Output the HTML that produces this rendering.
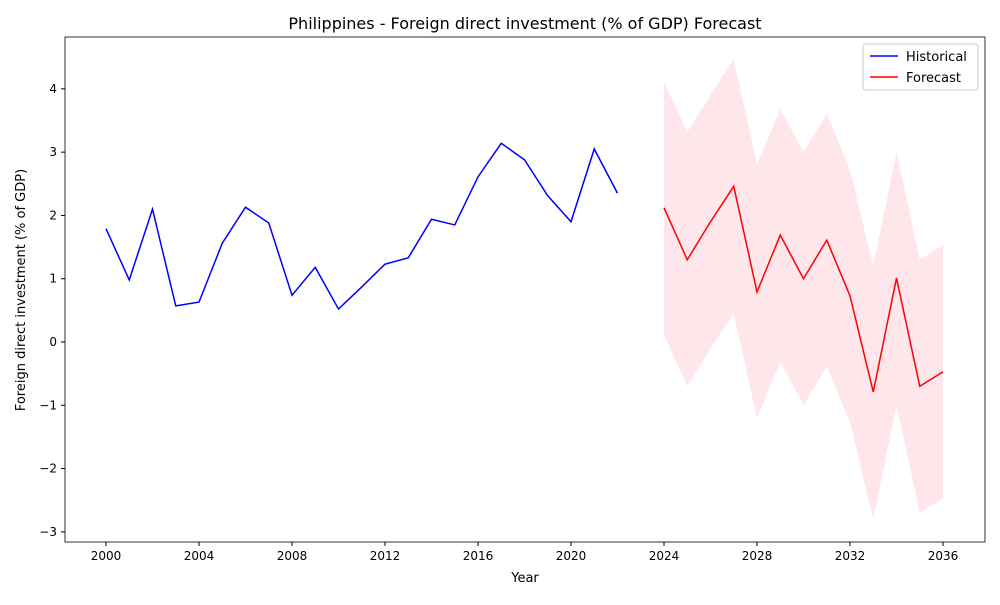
<!DOCTYPE html>
<html><head><meta charset="utf-8"><style>
body{margin:0;background:#fff;font-family:"Liberation Sans","DejaVu Sans",sans-serif}
svg text{font-family:"DejaVu Sans","Liberation Sans",sans-serif;fill:#000}
</style></head><body>
<svg id="chart" width="1000" height="600" xmlns="http://www.w3.org/2000/svg">
<rect width="1000" height="600" fill="#fff"/>
<g id="plot"></g>
</svg>
<script>
const histYears=[2000,2001,2002,2003,2004,2005,2006,2007,2008,2009,2010,2011,2012,2013,2014,2015,2016,2017,2018,2019,2020,2021,2022];
const histValues=[1.79,0.98,2.10,0.57,0.63,1.56,2.13,1.88,0.74,1.18,0.52,0.87,1.23,1.33,1.94,1.85,2.61,3.14,2.88,2.31,1.90,3.05,2.35];
const fcYears=[2024,2025,2026,2027,2028,2029,2030,2031,2032,2033,2034,2035,2036];
const fcValues=[2.12,1.30,1.90,2.46,0.79,1.69,1.00,1.61,0.73,-0.79,1.01,-0.70,-0.47];
const fcUpper=[4.11,3.32,3.90,4.47,2.80,3.68,3.00,3.60,2.72,1.20,3.00,1.30,1.53];
const fcLower=[0.12,-0.70,-0.10,0.45,-1.21,-0.31,-1.00,-0.39,-1.27,-2.80,-1.00,-2.70,-2.47];
const xTicks=[2000,2004,2008,2012,2016,2020,2024,2028,2032,2036];
const yTicks=[-3,-2,-1,0,1,2,3,4];
const NS="http://www.w3.org/2000/svg";
const L=65,R=985,T=37,B=542;
const x=v=>106+(v-2000)*(943-106)/36;
const y=v=>342-v*(443/7);
const g=document.getElementById('plot');
function el(t,a,p){const e=document.createElementNS(NS,t);for(const k in a)e.setAttribute(k,a[k]);(p||g).appendChild(e);return e;}
let d='';fcYears.forEach((yr,i)=>d+=(i?'L':'M')+x(yr)+','+y(fcUpper[i]));
for(let i=fcYears.length-1;i>=0;i--)d+='L'+x(fcYears[i])+','+y(fcLower[i]);
const band=el('path',{d:d+'Z',fill:'#ffc0cb',opacity:0.4});


const hp=el('polyline',{points:histYears.map((yr,i)=>x(yr)+','+y(histValues[i])).join(' '),fill:'none',stroke:'#0000ff','stroke-width':1.5});


const fp=el('polyline',{points:fcYears.map((yr,i)=>x(yr)+','+y(fcValues[i])).join(' '),fill:'none',stroke:'#ff0000','stroke-width':1.5});


const fr=el('rect',{x:L,y:T,width:R-L,height:B-T,fill:'none',stroke:'#000','stroke-width':0.8});


xTicks.forEach(v=>{el('line',{x1:x(v),x2:x(v),y1:B,y2:B+4,stroke:'#000'});
const t=el('text',{x:x(v),y:B+18,'text-anchor':'middle','font-size':12});t.textContent=v;

});
yTicks.forEach(v=>{el('line',{x1:L-4,x2:L,y1:y(v),y2:y(v),stroke:'#000'});
const t=el('text',{x:L-8,y:y(v)+4,'text-anchor':'end','font-size':12});t.textContent=v<0?'\u2212'+(-v):v;

});
</script>
<svg style="position:absolute;left:0;top:0" width="1000" height="600" xmlns="http://www.w3.org/2000/svg">
<text x="525" y="29" text-anchor="middle" font-size="16">Philippines - Foreign direct investment (% of GDP) Forecast</text>
<text x="525" y="582" text-anchor="middle" font-size="13">Year</text>
<text transform="translate(25,290) rotate(-90)" text-anchor="middle" font-size="13">Foreign direct investment (% of GDP)</text>
<g>
<rect x="863" y="44" width="115" height="46" rx="3" fill="#fff" stroke="#ccc"/>
<line x1="870" x2="898" y1="56" y2="56" stroke="#0000ff" stroke-width="1.5"/>
<text x="906" y="61" font-size="13">Historical</text>
<line x1="870" x2="898" y1="77" y2="77" stroke="#ff0000" stroke-width="1.5"/>
<text x="906" y="82" font-size="13">Forecast</text>
</g>
</svg>
</body></html>
